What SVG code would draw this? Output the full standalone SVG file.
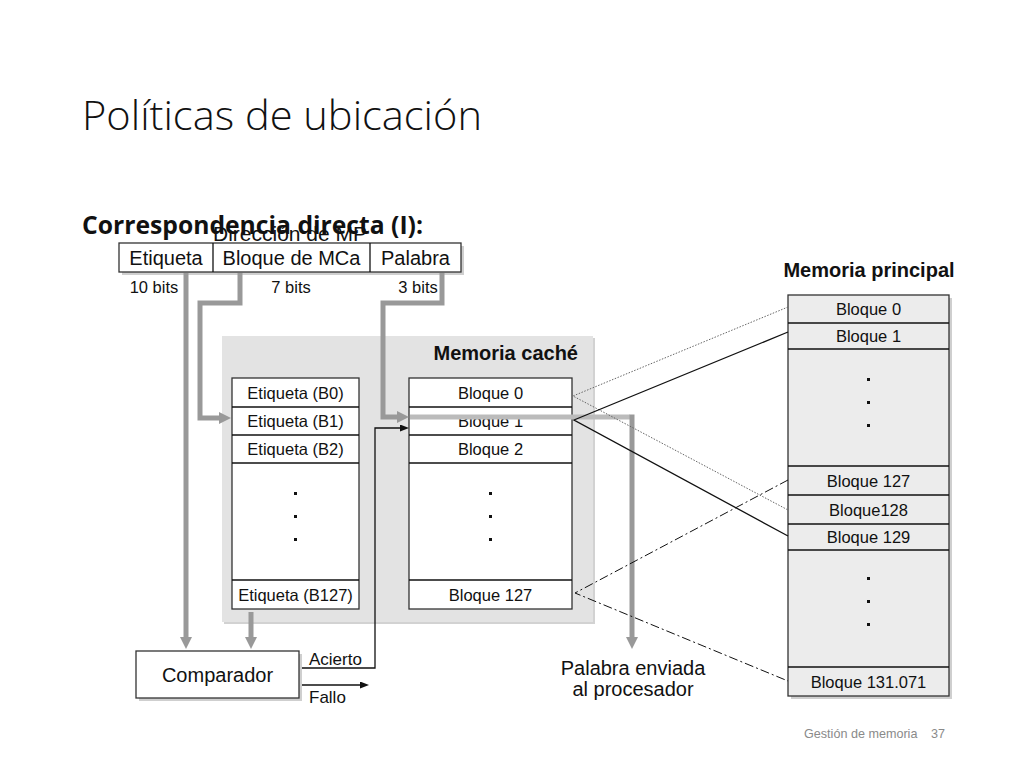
<svg xmlns="http://www.w3.org/2000/svg" width="1024" height="768" viewBox="0 0 1024 768">
<style>
.t{font-family:"Liberation Sans",Arial,sans-serif;fill:#111}
.c{text-anchor:middle}
.s14{font-size:16.5px}
.s17{font-size:20px}
.b{font-weight:bold}
.box{fill:#fff;stroke:#333;stroke-width:1.3}
.mp{fill:#ececec;stroke:#333;stroke-width:1.3}
.sh{fill:#cfcfcf}
.g{fill:none;stroke:#999;stroke-width:5}
.gl{fill:none;stroke:#bbb;stroke-width:5}
.k{fill:none;stroke:#111;stroke-width:1.3}
.dot{fill:#111}
</style>
<defs>
<marker id="ga" viewBox="0 0 12 12" refX="1" refY="6" markerWidth="12" markerHeight="12" markerUnits="userSpaceOnUse" orient="auto">
<path d="M0,0 L12,6 L0,12 z" fill="#999"/>
</marker>
<marker id="ka" viewBox="0 0 9 7" refX="1" refY="3.5" markerWidth="9" markerHeight="7" markerUnits="userSpaceOnUse" orient="auto">
<path d="M0,0 L9,3.5 L0,7 z" fill="#111"/>
</marker>
</defs>
<rect width="1024" height="768" fill="#fff"/>

<g id="title">
<text x="82" y="130" font-family="'Open Sans','Noto Sans',sans-serif" font-weight="300" font-size="41" fill="#111" textLength="400" lengthAdjust="spacingAndGlyphs">Políticas de ubicación</text>
<text x="82" y="234" font-family="'Open Sans','Noto Sans',sans-serif" font-weight="700" font-size="25" fill="#111" textLength="341" lengthAdjust="spacingAndGlyphs">Correspondencia directa (I):</text>
</g>

<g id="cache-panel">
<rect x="224" y="338" width="371" height="286" fill="#d2d2d2"/>
<rect x="222" y="336" width="371" height="286" fill="#e3e3e3"/>
<text class="t s17 b" x="578" y="360" text-anchor="end">Memoria caché</text>
</g>

<g id="direccion">
<rect class="sh" x="122" y="246" width="342" height="29"/>
<rect class="box" x="119" y="243" width="342" height="29"/>
<line class="k" x1="213" y1="243" x2="213" y2="272"/>
<line class="k" x1="370" y1="243" x2="370" y2="272"/>
<text class="t c" font-size="21" x="290" y="241">Dirección de MP</text>
<text class="t s17 c" x="166" y="265">Etiqueta</text>
<text class="t s17 c" x="291.5" y="265">Bloque de MCa</text>
<text class="t s17 c" x="415.5" y="265">Palabra</text>
<text class="t s14 c" x="154" y="293">10 bits</text>
<text class="t s14 c" x="291" y="293">7 bits</text>
<text class="t s14 c" x="418" y="293">3 bits</text>
</g>

<g id="etiquetas">
<rect class="box" x="232" y="378" width="127" height="231"/>
<line class="k" x1="232" y1="407" x2="359" y2="407"/>
<line class="k" x1="232" y1="435" x2="359" y2="435"/>
<line class="k" x1="232" y1="463" x2="359" y2="463"/>
<line class="k" x1="232" y1="580" x2="359" y2="580"/>
<text class="t s14 c" x="295.5" y="398.5">Etiqueta (B0)</text>
<text class="t s14 c" x="295.5" y="427">Etiqueta (B1)</text>
<text class="t s14 c" x="295.5" y="455">Etiqueta (B2)</text>
<rect class="dot" x="294" y="492" width="3" height="3"/>
<rect class="dot" x="294" y="515" width="3" height="3"/>
<rect class="dot" x="294" y="538" width="3" height="3"/>
<text class="t s14 c" x="295.5" y="600.5">Etiqueta (B127)</text>
</g>

<g id="bloques-cache">
<rect class="box" x="409" y="378" width="163" height="231"/>
<line class="k" x1="409" y1="407" x2="572" y2="407"/>
<line class="k" x1="409" y1="435" x2="572" y2="435"/>
<line class="k" x1="409" y1="463" x2="572" y2="463"/>
<line class="k" x1="409" y1="580" x2="572" y2="580"/>
<text class="t s14 c" x="490.5" y="398.5">Bloque 0</text>
<text class="t s14 c" x="490.5" y="427">Bloque 1</text>
<text class="t s14 c" x="490.5" y="455">Bloque 2</text>
<rect class="dot" x="489" y="492" width="3" height="3"/>
<rect class="dot" x="489" y="515" width="3" height="3"/>
<rect class="dot" x="489" y="538" width="3" height="3"/>
<text class="t s14 c" x="490.5" y="600.5">Bloque 127</text>
</g>

<g id="memoria-principal">
<text class="t s17 b c" x="869" y="277">Memoria principal</text>
<rect class="sh" x="791" y="298" width="161" height="401"/>
<rect class="mp" x="788" y="295" width="161" height="401"/>
<line class="k" x1="788" y1="323" x2="949" y2="323"/>
<line class="k" x1="788" y1="349" x2="949" y2="349"/>
<line class="k" x1="788" y1="466" x2="949" y2="466"/>
<line class="k" x1="788" y1="495" x2="949" y2="495"/>
<line class="k" x1="788" y1="524" x2="949" y2="524"/>
<line class="k" x1="788" y1="550" x2="949" y2="550"/>
<line class="k" x1="788" y1="667" x2="949" y2="667"/>
<text class="t s14 c" x="868.5" y="315">Bloque 0</text>
<text class="t s14 c" x="868.5" y="342">Bloque 1</text>
<rect class="dot" x="867" y="378" width="3" height="3"/>
<rect class="dot" x="867" y="401" width="3" height="3"/>
<rect class="dot" x="867" y="424" width="3" height="3"/>
<text class="t s14 c" x="868.5" y="486.5">Bloque 127</text>
<text class="t s14 c" x="868.5" y="515.5">Bloque128</text>
<text class="t s14 c" x="868.5" y="543">Bloque 129</text>
<rect class="dot" x="867" y="577" width="3" height="3"/>
<rect class="dot" x="867" y="600" width="3" height="3"/>
<rect class="dot" x="867" y="623" width="3" height="3"/>
<text class="t s14 c" x="868.5" y="687.5">Bloque 131.071</text>
</g>

<g id="comparador">
<rect class="sh" x="139" y="654" width="163" height="47"/>
<rect class="box" x="136" y="651" width="163" height="47"/>
<text class="t s17 c" x="217.5" y="682">Comparador</text>
</g>

<g id="labels">
<text class="t" font-size="17" x="309" y="665">Acierto</text>
<text class="t" font-size="17" x="309" y="703">Fallo</text>
<text class="t s17 c" x="633" y="675">Palabra enviada</text>
<text class="t s17 c" x="633" y="696">al procesador</text>
</g>

<g id="connectors">
<path class="g" d="M186,273 V638" marker-end="url(#ga)"/>
<path class="g" d="M240,273 V303 H200 V418 H220" marker-end="url(#ga)"/>
<path class="g" d="M442,273 V303 H383 V417 H398" marker-end="url(#ga)"/>
<path class="gl" d="M410,417 H630"/>
<path class="g" d="M632,414.5 V638" marker-end="url(#ga)"/>
<path class="g" d="M251,612 V638" marker-end="url(#ga)"/>
<path class="k" d="M302,668 H375 V428 H401" marker-end="url(#ka)"/>
<path class="k" d="M302,685 H361" marker-end="url(#ka)"/>
<path fill="none" stroke="#666" stroke-width="1" stroke-dasharray="1.5,1.5" d="M788,307 L573,396 L788,510"/>
<path fill="none" stroke="#111" stroke-width="1.3" d="M788,332 L574,420 L788,536"/>
<path fill="none" stroke="#111" stroke-width="1" stroke-dasharray="9,3,2,3" d="M788,480 L575,593 L788,681"/>
</g>

<g id="footer">
<text x="804" y="738" font-family="'Liberation Sans',Arial,sans-serif" font-size="12.6" fill="#8a8a8a">Gestión de memoria</text>
<text x="931" y="738" font-family="'Liberation Sans',Arial,sans-serif" font-size="12.6" fill="#8a8a8a">37</text>
</g>
</svg>
